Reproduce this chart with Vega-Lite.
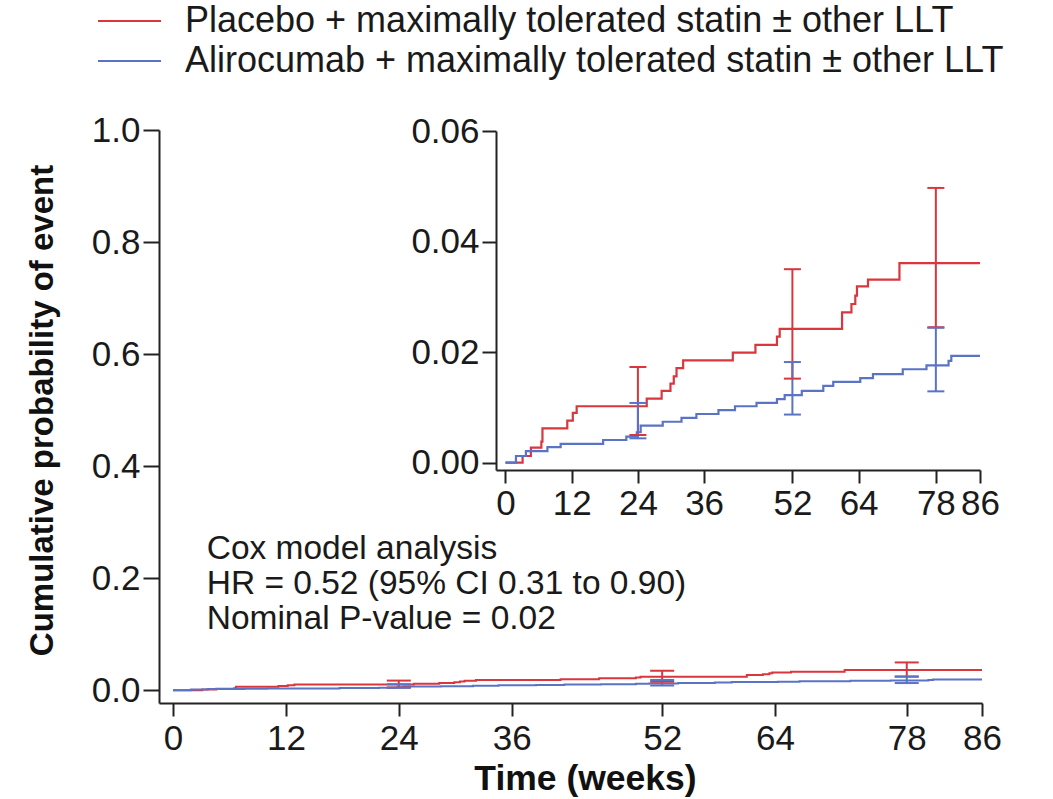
{
  "$schema": "https://vega.github.io/schema/vega-lite/v6.json",
  "autosize": "none",
  "padding": {"left": 159, "top": 130, "right": 71, "bottom": 96},
  "width": 823,
  "height": 573,
  "background": "white",
  "datasets": {
    "curves": [
      {"arm": "Placebo + maximally tolerated statin ± other LLT", "week": 0, "prob": 0},
      {"arm": "Placebo + maximally tolerated statin ± other LLT", "week": 3.1, "prob": 0.0012},
      {"arm": "Placebo + maximally tolerated statin ± other LLT", "week": 4.6, "prob": 0.0027},
      {"arm": "Placebo + maximally tolerated statin ± other LLT", "week": 6.5, "prob": 0.0038},
      {"arm": "Placebo + maximally tolerated statin ± other LLT", "week": 6.7, "prob": 0.0062},
      {"arm": "Placebo + maximally tolerated statin ± other LLT", "week": 11.2, "prob": 0.0076},
      {"arm": "Placebo + maximally tolerated statin ± other LLT", "week": 12.2, "prob": 0.009},
      {"arm": "Placebo + maximally tolerated statin ± other LLT", "week": 12.9, "prob": 0.0102},
      {"arm": "Placebo + maximally tolerated statin ± other LLT", "week": 25.6, "prob": 0.0116},
      {"arm": "Placebo + maximally tolerated statin ± other LLT", "week": 28.3, "prob": 0.013},
      {"arm": "Placebo + maximally tolerated statin ± other LLT", "week": 29.9, "prob": 0.0143},
      {"arm": "Placebo + maximally tolerated statin ± other LLT", "week": 30.5, "prob": 0.0156},
      {"arm": "Placebo + maximally tolerated statin ± other LLT", "week": 31.0, "prob": 0.0171},
      {"arm": "Placebo + maximally tolerated statin ± other LLT", "week": 32.2, "prob": 0.0185},
      {"arm": "Placebo + maximally tolerated statin ± other LLT", "week": 41.2, "prob": 0.0199},
      {"arm": "Placebo + maximally tolerated statin ± other LLT", "week": 45.3, "prob": 0.0213},
      {"arm": "Placebo + maximally tolerated statin ± other LLT", "week": 49.2, "prob": 0.0228},
      {"arm": "Placebo + maximally tolerated statin ± other LLT", "week": 49.7, "prob": 0.0242},
      {"arm": "Placebo + maximally tolerated statin ± other LLT", "week": 61.0, "prob": 0.0272},
      {"arm": "Placebo + maximally tolerated statin ± other LLT", "week": 62.7, "prob": 0.0287},
      {"arm": "Placebo + maximally tolerated statin ± other LLT", "week": 63.4, "prob": 0.0302},
      {"arm": "Placebo + maximally tolerated statin ± other LLT", "week": 63.7, "prob": 0.0319},
      {"arm": "Placebo + maximally tolerated statin ± other LLT", "week": 65.7, "prob": 0.0331},
      {"arm": "Placebo + maximally tolerated statin ± other LLT", "week": 71.4, "prob": 0.0361},
      {"arm": "Placebo + maximally tolerated statin ± other LLT", "week": 86, "prob": 0.0361},
      {"arm": "Alirocumab + maximally tolerated statin ± other LLT", "week": 0, "prob": 0},
      {"arm": "Alirocumab + maximally tolerated statin ± other LLT", "week": 1.9, "prob": 0.0012},
      {"arm": "Alirocumab + maximally tolerated statin ± other LLT", "week": 3.7, "prob": 0.0021},
      {"arm": "Alirocumab + maximally tolerated statin ± other LLT", "week": 7.6, "prob": 0.0028},
      {"arm": "Alirocumab + maximally tolerated statin ± other LLT", "week": 10.0, "prob": 0.0034},
      {"arm": "Alirocumab + maximally tolerated statin ± other LLT", "week": 17.7, "prob": 0.0041},
      {"arm": "Alirocumab + maximally tolerated statin ± other LLT", "week": 21.9, "prob": 0.0047},
      {"arm": "Alirocumab + maximally tolerated statin ± other LLT", "week": 23.8, "prob": 0.0055},
      {"arm": "Alirocumab + maximally tolerated statin ± other LLT", "week": 24.5, "prob": 0.0067},
      {"arm": "Alirocumab + maximally tolerated statin ± other LLT", "week": 28.5, "prob": 0.0074},
      {"arm": "Alirocumab + maximally tolerated statin ± other LLT", "week": 31.9, "prob": 0.0081},
      {"arm": "Alirocumab + maximally tolerated statin ± other LLT", "week": 34.6, "prob": 0.0088},
      {"arm": "Alirocumab + maximally tolerated statin ± other LLT", "week": 38.6, "prob": 0.0095},
      {"arm": "Alirocumab + maximally tolerated statin ± other LLT", "week": 41.6, "prob": 0.0102},
      {"arm": "Alirocumab + maximally tolerated statin ± other LLT", "week": 45.5, "prob": 0.0108},
      {"arm": "Alirocumab + maximally tolerated statin ± other LLT", "week": 49.2, "prob": 0.0115},
      {"arm": "Alirocumab + maximally tolerated statin ± other LLT", "week": 50.6, "prob": 0.0122},
      {"arm": "Alirocumab + maximally tolerated statin ± other LLT", "week": 53.7, "prob": 0.013},
      {"arm": "Alirocumab + maximally tolerated statin ± other LLT", "week": 57.6, "prob": 0.0139},
      {"arm": "Alirocumab + maximally tolerated statin ± other LLT", "week": 59.4, "prob": 0.0146},
      {"arm": "Alirocumab + maximally tolerated statin ± other LLT", "week": 64.3, "prob": 0.0153},
      {"arm": "Alirocumab + maximally tolerated statin ± other LLT", "week": 66.6, "prob": 0.016},
      {"arm": "Alirocumab + maximally tolerated statin ± other LLT", "week": 72.0, "prob": 0.0169},
      {"arm": "Alirocumab + maximally tolerated statin ± other LLT", "week": 76.3, "prob": 0.0176},
      {"arm": "Alirocumab + maximally tolerated statin ± other LLT", "week": 80.3, "prob": 0.0184},
      {"arm": "Alirocumab + maximally tolerated statin ± other LLT", "week": 80.8, "prob": 0.0193},
      {"arm": "Alirocumab + maximally tolerated statin ± other LLT", "week": 86, "prob": 0.0193}
    ],
    "bars": [
      {"arm": "Placebo + maximally tolerated statin ± other LLT", "week": 24, "lo": 0.005, "hi": 0.0173},
      {"arm": "Placebo + maximally tolerated statin ± other LLT", "week": 52, "lo": 0.0152, "hi": 0.035},
      {"arm": "Placebo + maximally tolerated statin ± other LLT", "week": 78, "lo": 0.0245, "hi": 0.0497},
      {"arm": "Alirocumab + maximally tolerated statin ± other LLT", "week": 24, "lo": 0.0044, "hi": 0.0108},
      {"arm": "Alirocumab + maximally tolerated statin ± other LLT", "week": 52, "lo": 0.0087, "hi": 0.0182},
      {"arm": "Alirocumab + maximally tolerated statin ± other LLT", "week": 78, "lo": 0.0129, "hi": 0.0244}
    ],
    "notes": [
      {"line": "Cox model analysis", "week": 3.58, "prob": 0.2518},
      {"line": "HR = 0.52 (95% CI 0.31 to 0.90)", "week": 3.58, "prob": 0.1893},
      {"line": "Nominal P-value = 0.02", "week": 3.58, "prob": 0.1268}
    ]
  },
  "layer": [
    {
      "layer": [
        {
          "data": {"name": "curves"},
          "mark": {"type": "line", "interpolate": "step-after", "strokeWidth": 2},
          "encoding": {
            "x": {"field": "week", "type": "quantitative",
              "scale": {"domain": [-1.49, 86], "nice": false, "zero": false, "padding": 0},
              "axis": {"values": [0, 12, 24, 36, 52, 64, 78, 86], "title": "Time (weeks)", "titleFontSize": 35.5,
                "tickSize": 13, "labelPadding": 5, "titleX": 426, "titleY": 75, "titleAlign": "center", "titleBaseline": "middle"}},
            "y": {"field": "prob", "type": "quantitative",
              "scale": {"domain": [-0.0227, 1], "nice": false, "zero": false, "padding": 0},
              "axis": {"values": [0, 0.2, 0.4, 0.6, 0.8, 1], "format": ".1f", "title": "Cumulative probability of event", "titleFontSize": 33,
                "tickSize": 16, "labelPadding": 3, "titleX": -117, "titleY": 280, "titleAngle": -90, "titleAlign": "center", "titleBaseline": "middle"}},
            "color": {"field": "arm", "type": "nominal",
              "scale": {"domain": ["Placebo + maximally tolerated statin ± other LLT", "Alirocumab + maximally tolerated statin ± other LLT"], "range": ["#d9363e", "#5b73c5"]},
              "legend": {"orient": "none", "legendX": -62, "legendY": -129, "title": null, "symbolType": "stroke", "symbolSize": 3969, "symbolStrokeWidth": 2,
                "labelFontSize": 36, "labelOffset": 23, "rowPadding": 0, "clipHeight": 40, "labelLimit": 0, "labelFont": "Liberation Sans", "labelColor": "#1a1a1a"}}
          }
        },
        {
          "data": {"name": "bars"},
          "mark": {"type": "rule", "strokeWidth": 2},
          "encoding": {
            "x": {"field": "week", "type": "quantitative"},
            "y": {"field": "lo", "type": "quantitative"},
            "y2": {"field": "hi"},
            "color": {"field": "arm", "type": "nominal"}
          }
        },
        {
          "data": {"name": "bars"},
          "mark": {"type": "tick", "orient": "horizontal", "size": 24, "thickness": 2, "opacity": 1},
          "encoding": {
            "x": {"field": "week", "type": "quantitative"},
            "y": {"field": "lo", "type": "quantitative"},
            "color": {"field": "arm", "type": "nominal"}
          }
        },
        {
          "data": {"name": "bars"},
          "mark": {"type": "tick", "orient": "horizontal", "size": 24, "thickness": 2, "opacity": 1},
          "encoding": {
            "x": {"field": "week", "type": "quantitative"},
            "y": {"field": "hi", "type": "quantitative"},
            "color": {"field": "arm", "type": "nominal"}
          }
        },
        {
          "data": {"name": "notes"},
          "mark": {"type": "text", "align": "left", "baseline": "middle", "fontSize": 33.5, "font": "Liberation Sans", "color": "#1a1a1a"},
          "encoding": {
            "x": {"field": "week", "type": "quantitative"},
            "y": {"field": "prob", "type": "quantitative"},
            "text": {"field": "line"}
          }
        }
      ]
    },
    {
      "layer": [
        {
          "data": {"name": "curves"},
          "mark": {"type": "line", "interpolate": "step-after", "strokeWidth": 2.2},
          "encoding": {
            "x": {"field": "week", "type": "quantitative",
              "scale": {"domain": [-1.72, 86], "range": [337, 821], "nice": false, "zero": false, "padding": 0},
              "axis": {"orient": "bottom", "offset": -233, "values": [0, 12, 24, 36, 52, 64, 78, 86], "title": null, "tickSize": 13, "labelPadding": 3}},
            "y": {"field": "prob", "type": "quantitative",
              "scale": {"domain": [-0.00133, 0.06], "range": [340, 1], "nice": false, "zero": false, "padding": 0},
              "axis": {"orient": "left", "offset": -337, "values": [0, 0.02, 0.04, 0.06], "format": ".2f", "title": null, "tickSize": 14, "labelPadding": 3}},
            "color": {"field": "arm", "type": "nominal"}
          }
        },
        {
          "data": {"name": "bars"},
          "mark": {"type": "rule", "strokeWidth": 2},
          "encoding": {
            "x": {"field": "week", "type": "quantitative"},
            "y": {"field": "lo", "type": "quantitative"},
            "y2": {"field": "hi"},
            "color": {"field": "arm", "type": "nominal"}
          }
        },
        {
          "data": {"name": "bars"},
          "mark": {"type": "tick", "orient": "horizontal", "size": 17, "thickness": 2, "opacity": 1},
          "encoding": {
            "x": {"field": "week", "type": "quantitative"},
            "y": {"field": "lo", "type": "quantitative"},
            "color": {"field": "arm", "type": "nominal"}
          }
        },
        {
          "data": {"name": "bars"},
          "mark": {"type": "tick", "orient": "horizontal", "size": 17, "thickness": 2, "opacity": 1},
          "encoding": {
            "x": {"field": "week", "type": "quantitative"},
            "y": {"field": "hi", "type": "quantitative"},
            "color": {"field": "arm", "type": "nominal"}
          }
        }
      ]
    }
  ],
  "resolve": {"scale": {"x": "independent", "y": "independent"}},
  "config": {
    "view": {"stroke": null},
    "axis": {
      "domainColor": "#222222", "domainWidth": 2, "tickColor": "#222222", "tickWidth": 2,
      "labelColor": "#1a1a1a", "labelFont": "Liberation Sans", "labelFontSize": 35,
      "titleFont": "Liberation Sans", "titleFontWeight": "bold", "titleColor": "#111111",
      "grid": false, "labelFlush": false, "labelOverlap": false
    }
  }
}
